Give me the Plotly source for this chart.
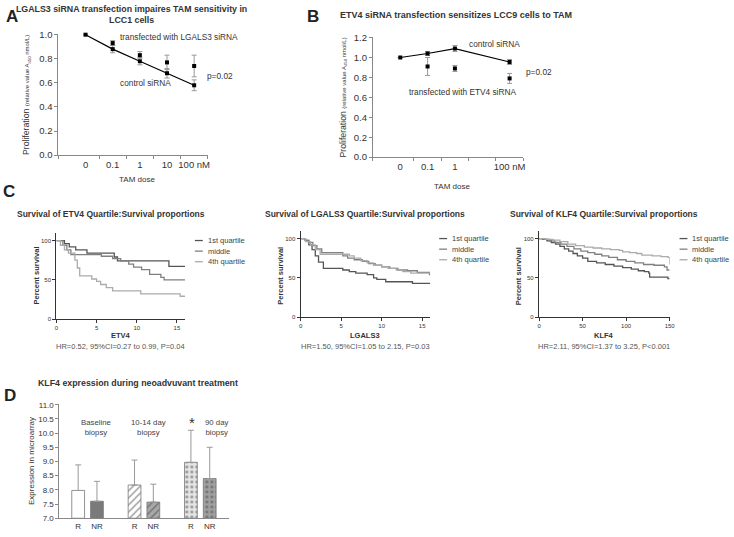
import plotly.graph_objects as go

W, H = 734, 537
FONT = "Arial, Liberation Sans, sans-serif"

# ---- panel A: LGALS3 siRNA in LCC1 ----
dose_labels_a = ["0", "0.1", "1", "10", "100 nM"]
ctrl_a = [1.0, 0.88, 0.78, 0.68, 0.58]
ctrl_a_err = [0, 0.03, 0.03, 0.04, 0.045]
lgals3_a = [None, 0.93, 0.83, 0.77, 0.74]
lgals3_a_err = [0, 0.02, 0.03, 0.06, 0.09]

# ---- panel B: ETV4 siRNA in LCC9 ----
dose_labels_b = ["0", "0.1", "1", "", "100 nM"]
ctrl_b = [1.0, 1.04, 1.09, None, 0.955]
ctrl_b_err = [0, 0.02, 0.03, 0, 0.025]
etv4_b = [None, 0.91, 0.89, None, 0.79]
etv4_b_err = [0, 0.09, 0.03, 0, 0.05]

# ---- panel C: survival curves (time, percent survival) ----
etv4_q1_t = [0, 1.0, 1.6, 2.4, 3.8, 7.2, 7.6, 14.0, 16]
etv4_q1_s = [100, 96, 92, 88, 84, 79, 74, 67, 67]
etv4_mid_t = [0, 0.8, 1.3, 1.8, 5.6, 7.0, 8.0, 9.0, 9.6, 10.6, 11.6, 13.0, 13.4, 16]
etv4_mid_s = [100, 94, 88, 82, 80, 77, 74, 70, 66, 63, 57, 53, 50, 50]
etv4_q4_t = [0, 0.5, 1.0, 1.5, 2.3, 2.6, 2.9, 4.4, 5.0, 5.5, 6.2, 7.0, 10.5, 15.4, 16]
etv4_q4_s = [100, 94, 88, 84, 75, 65, 55, 51, 48, 44, 40, 36, 32, 29, 29]

lg_q1_t = [0, 0.6, 1.0, 1.4, 1.8, 2.2, 2.8, 5.2, 6.0, 6.8, 8.2, 9.0, 9.4, 10.5, 13.8, 16]
lg_q1_s = [100, 97, 92, 86, 78, 70, 62, 60, 58, 56, 54, 50, 48, 45, 43, 43]
lg_mid_t = [0, 0.5, 1.0, 1.5, 2.0, 2.6, 5.2, 5.8, 6.6, 7.6, 8.4, 9.2, 10.0, 11.0, 12.0, 13.2, 14.4, 15.9, 16]
lg_mid_s = [100, 98, 95, 91, 87, 82, 78, 75, 73, 71, 68, 66, 64, 62, 60, 59, 57, 54, 54]
lg_q4_t = [0, 0.6, 1.2, 1.8, 2.4, 6.0, 6.6, 7.4, 8.2, 9.0, 10.0, 10.8, 11.8, 12.6, 13.6, 16]
lg_q4_s = [100, 96, 92, 86, 80, 78, 75, 72, 69, 66, 64, 62, 60, 58, 56, 56]

klf_q1_t = [0, 4, 9, 14, 19, 24, 29, 34, 39, 44, 50, 56, 66, 76, 86, 96, 106, 114, 121, 126, 127, 148, 150]
klf_q1_s = [100, 99, 97, 95, 93, 90, 87, 84, 81, 78, 75, 71, 69, 67, 65, 63, 61, 59, 58, 56, 51, 49, 49]
klf_mid_t = [0, 6, 12, 18, 25, 32, 40, 48, 56, 64, 72, 80, 90, 100, 110, 120, 132, 144, 147, 150]
klf_mid_s = [100, 99, 97, 95, 93, 90, 87, 84, 82, 80, 78, 76, 73, 71, 69, 67, 66, 64, 60, 60]
klf_q4_t = [0, 8, 16, 24, 33, 42, 52, 62, 72, 82, 92, 96, 104, 112, 118, 130, 140, 148, 150]
klf_q4_s = [100, 99, 98, 96, 93, 91, 89, 88, 87, 86, 85, 83, 82, 81, 79, 78, 77, 76, 67]

quartile_names = ["1st quartile", "middle", "4th quartile"]
quartile_colors = ["#555555", "#808080", "#ababab"]

# ---- panel D: KLF4 expression ----
biopsy_groups = ["Baseline<br>biopsy", "10-14 day<br>biopsy", "90 day<br>biopsy"]
resp_labels = ["R", "NR"]
klf4_mean = [[7.98, 7.6], [8.17, 7.57], [8.97, 8.4]]
klf4_upper = [[8.88, 8.3], [9.05, 8.2], [10.1, 9.5]]


def xd(a, b):
    return [a / W, b / W]


def yd(top, bottom):
    return [1 - bottom / H, 1 - top / H]


def px(x):
    return x / W


def py(y):
    return 1 - y / H


fig = go.Figure()

# panel A traces
xa = list(range(len(dose_labels_a)))
fig.add_trace(go.Scatter(x=xa, y=ctrl_a, mode="lines+markers", xaxis="x", yaxis="y",
                         line=dict(color="black", width=1.2),
                         marker=dict(symbol="square", size=4, color="black"),
                         error_y=dict(type="data", array=ctrl_a_err, color="#999", thickness=1, width=2.5),
                         cliponaxis=False, showlegend=False))
fig.add_trace(go.Scatter(x=xa, y=lgals3_a, mode="markers", xaxis="x", yaxis="y",
                         marker=dict(symbol="square", size=4, color="black"),
                         error_y=dict(type="data", array=lgals3_a_err, color="#999", thickness=1, width=2.5),
                         cliponaxis=False, showlegend=False))

# panel B traces
xb = list(range(len(dose_labels_b)))
fig.add_trace(go.Scatter(x=xb, y=ctrl_b, mode="lines+markers", xaxis="x2", yaxis="y2", connectgaps=True,
                         line=dict(color="black", width=1.2),
                         marker=dict(symbol="square", size=4, color="black"),
                         error_y=dict(type="data", array=ctrl_b_err, color="#999", thickness=1, width=2.5),
                         cliponaxis=False, showlegend=False))
fig.add_trace(go.Scatter(x=xb, y=etv4_b, mode="markers", xaxis="x2", yaxis="y2",
                         marker=dict(symbol="square", size=4, color="black"),
                         error_y=dict(type="data", array=etv4_b_err, color="#999", thickness=1, width=2.5),
                         cliponaxis=False, showlegend=False))

# panel C traces
surv_sets = [
    ("x3", "y3", [(etv4_q1_t, etv4_q1_s), (etv4_mid_t, etv4_mid_s), (etv4_q4_t, etv4_q4_s)]),
    ("x4", "y4", [(lg_q1_t, lg_q1_s), (lg_mid_t, lg_mid_s), (lg_q4_t, lg_q4_s)]),
    ("x5", "y5", [(klf_q1_t, klf_q1_s), (klf_mid_t, klf_mid_s), (klf_q4_t, klf_q4_s)]),
]
for xax, yax, curves in surv_sets:
    for k, (t, s) in enumerate(curves):
        fig.add_trace(go.Scatter(x=t, y=s, mode="lines", xaxis=xax, yaxis=yax,
                                 line=dict(color=quartile_colors[k], width=1.3, shape="hv"),
                                 name=quartile_names[k], showlegend=False))

# panel D bars
bar_x, bar_y, bar_err, bar_text = [], [], [], []
for g in range(len(biopsy_groups)):
    for j in range(len(resp_labels)):
        bar_x.append(1 + 3 * g + j)
        bar_y.append(klf4_mean[g][j])
        bar_err.append(klf4_upper[g][j] - klf4_mean[g][j])
        bar_text.append(resp_labels[j])
bar_fill = ["white", "#7a7a7a", "white", "#a8a8a8", "#e6e6e6", "#a0a0a0"]
fig.add_trace(go.Bar(x=bar_x, y=[v - 7.0 for v in bar_y], base=7.0, xaxis="x6", yaxis="y6", width=0.68,
                     marker=dict(color=bar_fill,
                                 line=dict(color="#777", width=0.8),
                                 pattern=dict(shape=["", "", "/", "/", ".", "."],
                                              fgcolor=["#777", "#777", "#8a8a8a", "#606060", "#9a9a9a", "#6a6a6a"],
                                              bgcolor=bar_fill,
                                              size=5, solidity=0.3)),
                     error_y=dict(type="data", array=bar_err, arrayminus=[0] * len(bar_err), symmetric=False,
                                  color="#999", thickness=1, width=3),
                     showlegend=False))

ab_axis = dict(showline=True, linecolor="#888", linewidth=1, showgrid=False, zeroline=False,
               ticks="outside", ticklen=3, tickcolor="#888", tickfont=dict(size=9.5, color="#333"))
c_axis = dict(showline=True, linecolor="#333", linewidth=1.4, showgrid=False, zeroline=False,
              ticks="outside", ticklen=3, tickcolor="#333", tickfont=dict(size=6, color="#333"))
d_axis = dict(ab_axis, tickfont=dict(size=8, color="#333"))

fig.update_layout(
    width=W, height=H, margin=dict(l=0, r=0, t=0, b=0),
    paper_bgcolor="white", plot_bgcolor="white",
    font=dict(family=FONT, color="#333"),
    xaxis=dict(ab_axis, domain=xd(57, 208), anchor="y", range=[-1, 4.5],
               tickvals=xa, ticktext=dose_labels_a, ticks="",
               minor=dict(tickvals=[-1, 0.5, 1.5, 2.5, 3.5, 4.5], ticks="outside", ticklen=3, tickcolor="#888")),
    yaxis=dict(ab_axis, domain=yd(30, 153), anchor="x", range=[0, 1.002], dtick=0.2, tick0=0, tickformat=".1f"),
    xaxis2=dict(ab_axis, domain=xd(375, 527), anchor="y2", range=[-1, 4.5],
                tickvals=xb, ticktext=dose_labels_b, ticks="",
                minor=dict(tickvals=[-1, 0.5, 1.5, 2.5, 3.5, 4.5], ticks="outside", ticklen=3, tickcolor="#888")),
    yaxis2=dict(ab_axis, domain=yd(33, 155), anchor="x2", range=[0, 1.202], dtick=0.2, tick0=0, tickformat=".1f"),
    xaxis3=dict(c_axis, domain=xd(55, 185), anchor="y3", range=[0, 16], tickvals=[0, 5, 10, 15]),
    yaxis3=dict(c_axis, domain=yd(232, 320), anchor="x3", range=[0, 110], tickvals=[0, 50, 100]),
    xaxis4=dict(c_axis, domain=xd(302, 433), anchor="y4", range=[0, 16], tickvals=[0, 5, 10, 15]),
    yaxis4=dict(c_axis, domain=yd(230, 318), anchor="x4", range=[0, 110], tickvals=[0, 50, 100]),
    xaxis5=dict(c_axis, domain=xd(543, 675), anchor="y5", range=[0, 150], tickvals=[0, 50, 100, 150]),
    yaxis5=dict(c_axis, domain=yd(230, 318), anchor="x5", range=[0, 110], tickvals=[0, 50, 100]),
    xaxis6=dict(d_axis, domain=xd(58, 229), anchor="y6", range=[0, 9], tickvals=bar_x, ticktext=bar_text, ticks=""),
    yaxis6=dict(d_axis, domain=yd(407, 523), anchor="x6", range=[7, 11.01], dtick=0.5, tick0=7, tickformat=".1f"),
)

ann = []


def text(x, y, s, size=10, bold=False, xanchor="center", angle=0, color="#333"):
    if bold:
        s = "<b>" + s + "</b>"
    ann.append(dict(x=px(x), y=py(y), xref="paper", yref="paper", text=s, showarrow=False,
                    xanchor=xanchor, yanchor="middle", textangle=angle,
                    font=dict(size=size, color=color, family=FONT)))


# panel letters
text(10, 12, "A", size=17, bold=True, color="#222")
text(314, 12, "B", size=17, bold=True, color="#222")
text(7, 190, "C", size=17, bold=True, color="#222")
text(8, 398, "D", size=17, bold=True, color="#222")

# panel A text
text(131, 10, "LGALS3 siRNA transfection impaires TAM sensitivity in<br>LCC1 cells", size=8.8, bold=True)
text(117, 33, "transfected with LGALS3 siRNA", size=8.3, xanchor="left")
text(117, 79, "control siRNA", size=8.3, xanchor="left")
text(205, 72, "p=0.02", size=8.3, xanchor="left")
text(136, 178, "TAM dose", size=8)
text(25, 92, "Proliferation <span style='font-size:6px'>(relative value A<sub>450</sub> nmol/L)</span>",
     size=8.7, angle=-90)

# panel B text
text(340, 10, "ETV4 siRNA transfection sensitizes LCC9 cells to TAM", size=9, bold=True, xanchor="left")
text(470, 40, "control siRNA", size=8.3, xanchor="left")
text(409, 89, "transfected with ETV4 siRNA", size=8.3, xanchor="left")
text(528, 68, "p=0.02", size=8.3, xanchor="left")
text(455, 185, "TAM dose", size=8)
text(345, 94, "Proliferation <span style='font-size:6px'>(relative value A<sub>450</sub> nmol/L)</span>",
     size=8.7, angle=-90)

# panel C text
c_info = [
    (110, 120, 35, 195, 240, "ETV4", "HR=0.52, 95%CI=0.27 to 0.99, P=0.04"),
    (367, 367, 282, 442, 238, "LGALS3", "HR=1.50, 95%CI=1.05 to 2.15, P=0.03"),
    (609, 609, 523, 685, 238, "KLF4", "HR=2.11, 95%CI=1.37 to 3.25, P<0.001"),
]
shapes = []
for tx, cx, ytx, lx, ly, gene, hr in c_info:
    text(tx, 213, "Survival of " + gene + " Quartile:Survival proportions", size=8.5, bold=True)
    text(cx, 337, gene, size=7.5, bold=True)
    text(cx, 348, hr, size=7.5, color="#555")
    text(ytx, 276, "Percent survival", size=7.5, bold=True, angle=-90)
    for k in range(3):
        yy = ly + k * 10.8
        shapes.append(dict(type="line", xref="paper", yref="paper", x0=px(lx), x1=px(lx + 8),
                           y0=py(yy), y1=py(yy), line=dict(color=quartile_colors[k], width=1.3)))
        text(lx + 11, yy, quartile_names[k], size=7.5, xanchor="left", color="#444")

# panel D text
text(137, 385, "KLF4 expression during neoadvuvant treatment", size=8.8, bold=True)
text(78, 431, "Baseline<br>biopsy", size=7.8, xanchor="left", color="#444")
text(128, 431, "10-14 day<br>biopsy", size=7.8, xanchor="left", color="#444")
text(203, 431, "90 day<br>biopsy", size=7.8, xanchor="left", color="#444")
text(192, 425, "*", size=15, color="#333")
text(30, 465, "Expression in microarray", size=8, angle=-90)

fig.update_layout(annotations=ann, shapes=shapes)
fig.write_html("out.html", config={"displayModeBar": False},
               post_script="document.body.style.margin='0';document.body.style.overflow='hidden';")
